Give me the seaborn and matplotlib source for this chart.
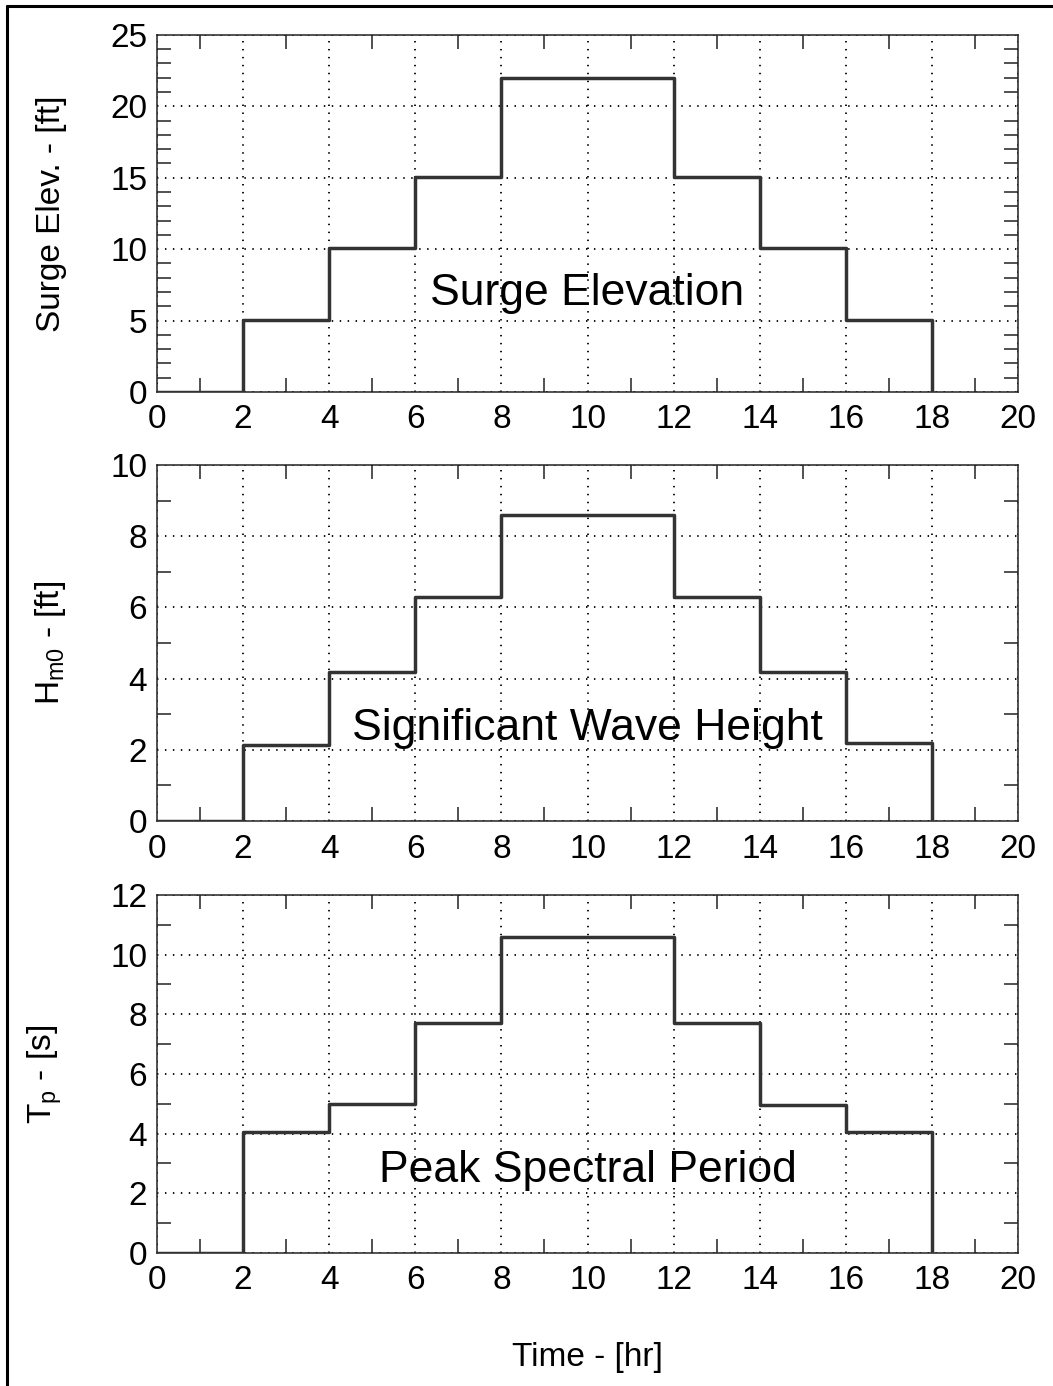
import matplotlib
matplotlib.use("Agg")
import matplotlib.pyplot as plt
from matplotlib.lines import Line2D
from matplotlib.ticker import MultipleLocator
import pandas as pd
import seaborn as sns

# step hydrograph values (level held from each hour until the next one)
hours = [0, 2, 4, 6, 8, 12, 14, 16, 18]
surge_ft = [0.0, 5.05, 10.1, 15.05, 22.0, 15.05, 10.1, 5.05, 0.0]
hm0_ft = [0.0, 2.15, 4.2, 6.3, 8.6, 6.3, 4.2, 2.2, 0.0]
tp_s = [0.0, 4.05, 5.0, 7.7, 10.6, 7.7, 4.95, 4.05, 0.0]

panel_titles = ["Surge Elevation", "Significant Wave Height", "Peak Spectral Period"]
y_labels = ["Surge Elev. - [ft]", r"H$_\mathregular{m0}$ - [ft]", r"T$_\mathregular{p}$ - [s]"]
y_limits = [25, 10, 12]
y_major = [5, 2, 2]
title_y = [6.9, 2.6, 2.75]
label_x = [-0.122, -0.124, -0.13]

sns.set_theme(style="white", rc={"axes.edgecolor": "#222222", "axes.linewidth": 1.1})
plt.rcParams["font.family"] = ["Liberation Sans", "DejaVu Sans"]
plt.rcParams["mathtext.fontset"] = "custom"
plt.rcParams["mathtext.rm"] = "Liberation Sans"
plt.rcParams["mathtext.it"] = "Liberation Sans:italic"

df = pd.DataFrame({
    "hour": hours * 3,
    "value": surge_ft + hm0_ft + tp_s,
    "panel": sum([[t] * len(hours) for t in panel_titles], []),
})

fig = plt.figure(figsize=(10.53, 13.86), dpi=100)
left, width = 0.1491, 0.8177
boxes = [(0.7172, 0.2576), (0.4076, 0.2569), (0.0960, 0.2583)]

axes = []
for i, (bot, h) in enumerate(boxes):
    ax = fig.add_axes([left, bot, width, h])
    sub = df[df["panel"] == panel_titles[i]]
    sns.lineplot(data=sub, x="hour", y="value", ax=ax, estimator=None, sort=False,
                 drawstyle="steps-post", color="#333333", linewidth=2.5, zorder=3)
    ax.set_xlim(0, 20)
    ax.set_ylim(0, y_limits[i])
    ax.xaxis.set_major_locator(MultipleLocator(2))
    ax.xaxis.set_minor_locator(MultipleLocator(1))
    ax.yaxis.set_major_locator(MultipleLocator(y_major[i]))
    ax.yaxis.set_minor_locator(MultipleLocator(1))
    ax.tick_params(which="major", length=0, labelsize=24, pad=9, colors="black")
    ax.tick_params(axis="y", which="major", pad=7)
    ax.tick_params(which="minor", direction="in", length=10, width=1.1,
                   color="#222222", top=True, right=True, bottom=True, left=True)
    ax.grid(True, which="major", color="black", linestyle=(0, (0.8, 3.6)), linewidth=1.3)
    ax.text(10, title_y[i], panel_titles[i], fontsize=32, ha="center", va="center",
            color="black", zorder=4)
    ax.set_ylabel(y_labels[i], fontsize=24, va="center", color="black")
    ax.yaxis.set_label_coords(label_x[i], 0.5)
    ax.set_xlabel("")
    axes.append(ax)

axes[-1].set_xlabel("Time - [hr]", fontsize=24, va="center", color="black")
axes[-1].xaxis.set_label_coords(0.5, -0.293)

# partial figure frame (left and top edges)
fig.add_artist(Line2D([7 / 1053, 7 / 1053], [0, 1 - 6 / 1386], color="black", linewidth=2.2))
fig.add_artist(Line2D([7 / 1053, 1], [1 - 6 / 1386, 1 - 6 / 1386], color="black", linewidth=2.2))

fig.savefig("out.png", dpi=100)
